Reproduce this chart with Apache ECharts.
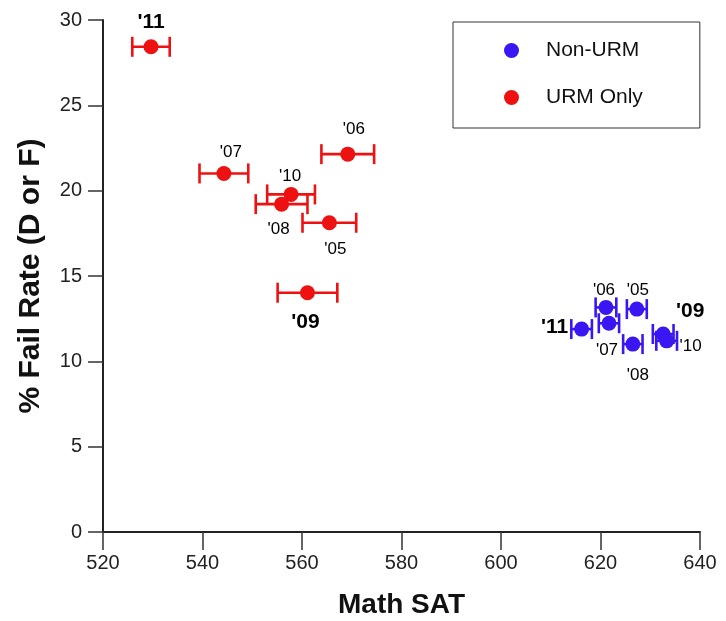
<!DOCTYPE html>
<html>
<head>
<meta charset="utf-8">
<script src="https://cdn.jsdelivr.net/npm/echarts@6/dist/echarts.min.js"></script>
<style>html,body{margin:0;padding:0;background:#fff}#c{width:726px;height:621px}</style>
</head>
<body>
<div id="c"></div>
<script>
// ---- data ----
const xTicks = [520, 540, 560, 580, 600, 620, 640];
const yTicks = [0, 5, 10, 15, 20, 25, 30];
const seriesNames = ['Non-URM', 'URM Only'];

const nonUrmLabels = ["'11", "'06", "'05", "'07", "'08", "'09", "'10"];
const nonUrmSat    = [616.2, 621.1, 627.3, 621.7, 626.5, 632.6, 633.3];
const nonUrmFail   = [11.89, 13.16, 13.06, 12.23, 11.01, 11.6, 11.2];
const nonUrmErr    = [2.07, 2.08, 2.0, 2.04, 1.95, 2.08, 2.08];

const urmLabels = ["'11", "'07", "'06", "'10", "'08", "'05", "'09"];
const urmSat    = [529.65, 544.3, 569.2, 557.8, 555.9, 565.5, 561.1];
const urmFail   = [28.43, 21.01, 22.14, 19.78, 19.21, 18.12, 14.02];
const urmErr    = [3.76, 4.9, 5.3, 4.8, 5.2, 5.4, 6.0];

// ---- styling (label placement, not data) ----
const BLUE = '#3a16f2', RED = '#ee1111';
const FONT = 'Liberation Sans, Arial, Helvetica, sans-serif';
const labelStyle = {
  "Non-URM": {"'11": [-27, -2, true], "'06": [-2, -17], "'05": [1, -19], "'07": [-2, 27], "'08": [5, 31], "'09": [27, -23, true], "'10": [24, 5]},
  "URM Only": {"'11": [0, -25, true], "'07": [7, -21], "'06": [6, -25], "'10": [-1, -18], "'08": [-3, 25], "'05": [6, 27], "'09": [-2, 29, true]}
};

function pointData(name, xs, ys, labs) {
  return xs.map((x, i) => {
    const s = labelStyle[name][labs[i]];
    return {
      value: [x, ys[i]],
      label: {
        show: true, formatter: labs[i], position: 'inside', offset: [s[0], s[1]],
        color: '#000', fontFamily: FONT,
        fontSize: s[2] ? 21 : 17, fontWeight: s[2] ? 'bold' : 'normal'
      }
    };
  });
}
function errData(xs, ys, es) { return xs.map((x, i) => [x, ys[i], es[i]]); }
function errRender(color) {
  return function (params, api) {
    const x = api.value(0), y = api.value(1), e = api.value(2);
    const l = api.coord([x - e, y]), r = api.coord([x + e, y]);
    const h = 10;
    const st = { stroke: color, lineWidth: 2.6 };
    return { type: 'group', children: [
      { type: 'line', shape: { x1: l[0], y1: l[1], x2: r[0], y2: r[1] }, style: st },
      { type: 'line', shape: { x1: l[0], y1: l[1] - h, x2: l[0], y2: l[1] + h }, style: st },
      { type: 'line', shape: { x1: r[0], y1: r[1] - h, x2: r[0], y2: r[1] + h }, style: st }
    ]};
  };
}

const chart = echarts.init(document.getElementById('c'), null, { renderer: 'canvas' });
chart.setOption({
  backgroundColor: '#fff',
  animation: false,
  color: [BLUE, RED],
  grid: { left: 103, right: 26, top: 20, bottom: 89, containLabel: false, outerBoundsMode: 'none' },
  xAxis: {
    type: 'value', min: xTicks[0], max: xTicks[xTicks.length - 1], interval: xTicks[1] - xTicks[0],
    name: 'Math SAT', nameLocation: 'middle', nameGap: 59,
    nameTextStyle: { fontFamily: FONT, fontWeight: 'bold', fontSize: 28, color: '#111' },
    axisLine: { onZero: false, lineStyle: { color: '#222', width: 2 } },
    axisTick: { length: 18, lineStyle: { color: '#333', width: 1.5 } },
    axisLabel: { fontFamily: FONT, fontSize: 20, color: '#222', margin: 21 },
    splitLine: { show: false }
  },
  yAxis: {
    type: 'value', min: yTicks[0], max: yTicks[yTicks.length - 1], interval: yTicks[1] - yTicks[0],
    name: '% Fail Rate (D or F)', nameLocation: 'middle', nameGap: 57, nameRotate: 90,
    nameTextStyle: { fontFamily: FONT, fontWeight: 'bold', fontSize: 30, color: '#111' },
    axisLine: { onZero: false, lineStyle: { color: '#222', width: 2 } },
    axisTick: { length: 15, lineStyle: { color: '#333', width: 1.5 } },
    axisLabel: { fontFamily: FONT, fontSize: 20, color: '#222', margin: 21 },
    splitLine: { show: false }
  },
  legend: {
    data: seriesNames.map(n => ({ name: n, icon: 'circle' })),
    orient: 'vertical', left: 453, top: 22,
    itemWidth: 15, itemHeight: 15, itemGap: 26,
    padding: [18, 57, 20, 51],
    borderColor: '#333', borderWidth: 1, backgroundColor: '#fff',
    textStyle: { fontFamily: FONT, fontSize: 21, color: '#111', lineHeight: 20, padding: [0, 0, 0, 22] }
  },
  series: [
    { name: 'Non-URM', type: 'custom', renderItem: errRender(BLUE), itemStyle: { color: BLUE },
      data: errData(nonUrmSat, nonUrmFail, nonUrmErr), z: 2, silent: true },
    { name: 'URM Only', type: 'custom', renderItem: errRender(RED), itemStyle: { color: RED },
      data: errData(urmSat, urmFail, urmErr), z: 2, silent: true },
    { name: 'Non-URM', type: 'scatter', symbol: 'circle', symbolSize: 15, itemStyle: { color: BLUE, opacity: 1 },
      data: pointData('Non-URM', nonUrmSat, nonUrmFail, nonUrmLabels), z: 3 },
    { name: 'URM Only', type: 'scatter', symbol: 'circle', symbolSize: 15, itemStyle: { color: RED, opacity: 1 },
      data: pointData('URM Only', urmSat, urmFail, urmLabels), z: 3 }
  ]
});
</script>
</body>
</html>
